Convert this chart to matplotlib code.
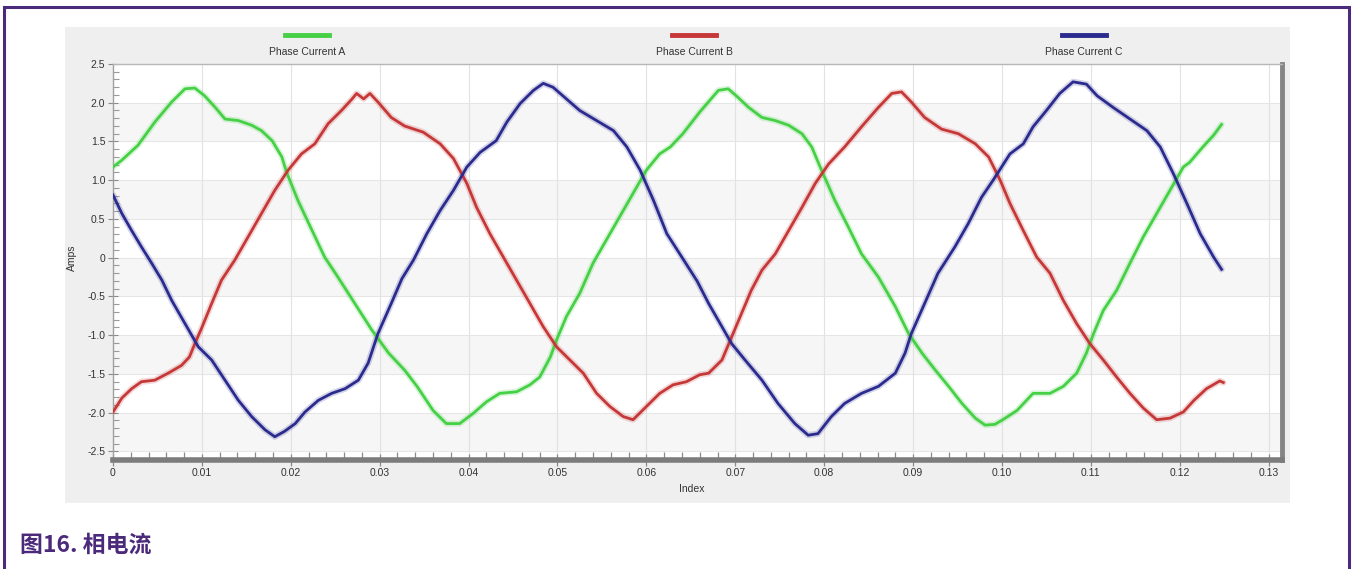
"""Phase current waveforms (figure 16) redrawn with matplotlib."""

import matplotlib

matplotlib.use("Agg")
import matplotlib.pyplot as plt
from matplotlib.lines import Line2D
from matplotlib.patches import Rectangle
from matplotlib.ticker import MultipleLocator, FixedLocator


W, H = 1352, 569
PURPLE = "#4b2a7b"

# values (seconds, amps)
time_a = [0.0000, 0.0010, 0.0028, 0.0047, 0.0066, 0.0081, 0.0092, 0.0103, 0.0115, 0.0126,
          0.0141, 0.0156, 0.0167, 0.0179, 0.0190, 0.0195, 0.0208, 0.0224, 0.0238, 0.0253,
          0.0272, 0.0291, 0.0310, 0.0328, 0.0342, 0.0360, 0.0375, 0.0390, 0.0405, 0.0420,
          0.0435, 0.0454, 0.0469, 0.0480, 0.0492, 0.0499, 0.0510, 0.0525, 0.0540, 0.0555,
          0.0570, 0.0585, 0.0600, 0.0615, 0.0627, 0.0641, 0.0660, 0.0681, 0.0692, 0.0703,
          0.0715, 0.0730, 0.0745, 0.0760, 0.0775, 0.0786, 0.0797, 0.0812, 0.0827, 0.0842,
          0.0861, 0.0880, 0.0895, 0.0910, 0.0925, 0.0940, 0.0955, 0.0970, 0.0981, 0.0992,
          0.1001, 0.1017, 0.1035, 0.1054, 0.1069, 0.1084, 0.1095, 0.1103, 0.1114, 0.1129,
          0.1144, 0.1159, 0.1174, 0.1189, 0.1204, 0.1211, 0.1226, 0.1238, 0.1247]
amps_a = [1.17, 1.26, 1.45, 1.75, 2.01, 2.18, 2.19, 2.09, 1.94, 1.79,
          1.77, 1.71, 1.64, 1.51, 1.30, 1.11, 0.74, 0.35, 0.01, -0.25,
          -0.59, -0.93, -1.23, -1.45, -1.66, -1.97, -2.14, -2.14, -2.01, -1.86,
          -1.75, -1.73, -1.64, -1.54, -1.28, -1.06, -0.76, -0.46, -0.07, 0.23,
          0.53, 0.83, 1.13, 1.34, 1.43, 1.60, 1.88, 2.16, 2.18, 2.07,
          1.94, 1.81, 1.77, 1.71, 1.60, 1.43, 1.13, 0.74, 0.40, 0.05,
          -0.25, -0.63, -0.98, -1.23, -1.45, -1.66, -1.88, -2.07, -2.16, -2.15,
          -2.09, -1.97, -1.75, -1.75, -1.66, -1.49, -1.23, -0.98, -0.68, -0.42,
          -0.07, 0.27, 0.57, 0.87, 1.17, 1.23, 1.43, 1.58, 1.72]

time_b = [0.0000, 0.0010, 0.0021, 0.0032, 0.0047, 0.0062, 0.0077, 0.0086, 0.0092, 0.0100,
          0.0111, 0.0122, 0.0137, 0.0152, 0.0167, 0.0182, 0.0197, 0.0212, 0.0227, 0.0242,
          0.0257, 0.0269, 0.0274, 0.0282, 0.0289, 0.0298, 0.0313, 0.0328, 0.0349, 0.0368,
          0.0383, 0.0398, 0.0409, 0.0424, 0.0439, 0.0454, 0.0469, 0.0484, 0.0499, 0.0514,
          0.0529, 0.0544, 0.0559, 0.0574, 0.0585, 0.0600, 0.0615, 0.0630, 0.0645, 0.0660,
          0.0670, 0.0685, 0.0696, 0.0707, 0.0718, 0.0730, 0.0745, 0.0760, 0.0775, 0.0790,
          0.0805, 0.0823, 0.0842, 0.0861, 0.0876, 0.0887, 0.0898, 0.0913, 0.0932, 0.0951,
          0.0970, 0.0985, 0.0998, 0.1009, 0.1024, 0.1039, 0.1054, 0.1069, 0.1084, 0.1099,
          0.1114, 0.1129, 0.1144, 0.1159, 0.1174, 0.1189, 0.1204, 0.1216, 0.1230, 0.1245,
          0.1249]
amps_b = [-1.99, -1.81, -1.69, -1.60, -1.58, -1.49, -1.39, -1.28, -1.11, -0.90,
          -0.59, -0.29, -0.03, 0.27, 0.57, 0.87, 1.13, 1.34, 1.47, 1.73,
          1.90, 2.05, 2.12, 2.05, 2.12, 2.01, 1.81, 1.70, 1.62, 1.47,
          1.28, 0.96, 0.65, 0.31, 0.01, -0.29, -0.59, -0.89, -1.15, -1.32,
          -1.49, -1.75, -1.92, -2.05, -2.09, -1.92, -1.75, -1.64, -1.60, -1.51,
          -1.49, -1.32, -1.02, -0.72, -0.42, -0.16, 0.05, 0.35, 0.65, 0.96,
          1.21, 1.43, 1.69, 1.94, 2.12, 2.14, 2.01, 1.81, 1.66, 1.60,
          1.47, 1.30, 1.00, 0.70, 0.35, 0.01, -0.20, -0.55, -0.85, -1.11,
          -1.32, -1.54, -1.75, -1.94, -2.09, -2.07, -1.99, -1.84, -1.69, -1.59,
          -1.61]

time_c = [0.0000, 0.0010, 0.0021, 0.0032, 0.0044, 0.0055, 0.0066, 0.0081, 0.0096, 0.0111,
          0.0126, 0.0141, 0.0156, 0.0171, 0.0182, 0.0193, 0.0205, 0.0216, 0.0231, 0.0246,
          0.0261, 0.0276, 0.0287, 0.0298, 0.0313, 0.0325, 0.0338, 0.0353, 0.0368, 0.0383,
          0.0398, 0.0413, 0.0431, 0.0443, 0.0458, 0.0473, 0.0484, 0.0495, 0.0510, 0.0525,
          0.0544, 0.0563, 0.0578, 0.0593, 0.0608, 0.0623, 0.0642, 0.0657, 0.0670, 0.0685,
          0.0696, 0.0711, 0.0730, 0.0748, 0.0767, 0.0782, 0.0793, 0.0808, 0.0823, 0.0842,
          0.0861, 0.0880, 0.0891, 0.0898, 0.0913, 0.0928, 0.0947, 0.0962, 0.0977, 0.0990,
          0.1009, 0.1024, 0.1035, 0.1050, 0.1065, 0.1080, 0.1095, 0.1107, 0.1125, 0.1144,
          0.1163, 0.1178, 0.1193, 0.1208, 0.1223, 0.1238, 0.1247]
amps_c = [0.81, 0.57, 0.35, 0.14, -0.08, -0.29, -0.55, -0.85, -1.15, -1.32,
          -1.58, -1.84, -2.05, -2.22, -2.31, -2.24, -2.14, -1.99, -1.84, -1.75,
          -1.69, -1.58, -1.36, -0.98, -0.59, -0.27, -0.03, 0.31, 0.61, 0.87,
          1.17, 1.36, 1.51, 1.75, 1.99, 2.16, 2.25, 2.20, 2.05, 1.90,
          1.77, 1.64, 1.43, 1.13, 0.74, 0.31, -0.03, -0.30, -0.59, -0.89,
          -1.11, -1.32, -1.58, -1.88, -2.14, -2.29, -2.27, -2.05, -1.88, -1.75,
          -1.66, -1.49, -1.23, -0.98, -0.59, -0.20, 0.14, 0.44, 0.78, 1.00,
          1.34, 1.47, 1.69, 1.90, 2.12, 2.27, 2.24, 2.09, 1.94, 1.79,
          1.64, 1.43, 1.08, 0.70, 0.31, 0.01, -0.15]

series_names = ["Phase Current A", "Phase Current B", "Phase Current C"]
series_colors = ["#45d045", "#c63838", "#2b2b8f"]

y_ticks = [-2.5, -2.0, -1.5, -1.0, -0.5, 0, 0.5, 1.0, 1.5, 2.0, 2.5]
y_tick_labels = ["-2.5", "-2.0", "-1.5", "-1.0", "-0.5", "0", "0.5", "1.0", "1.5", "2.0", "2.5"]
x_ticks = [0.00, 0.01, 0.02, 0.03, 0.04, 0.05, 0.06, 0.07, 0.08, 0.09, 0.10, 0.11, 0.12, 0.13]
x_tick_labels = ["0", "0.01", "0.02", "0.03", "0.04", "0.05", "0.06", "0.07", "0.08", "0.09",
                 "0.10", "0.11", "0.12", "0.13"]
legend_centers = [307, 694, 1084]


def fx(px):
    return px / W


def fy(py):
    return 1 - py / H


fig = plt.figure(figsize=(W / 100, H / 100), dpi=100)
fig.patch.set_facecolor("white")

# purple frame around the whole figure block, and the grey chart backdrop
fig.patches.append(Rectangle((fx(4), fy(580)), fx(1349) - fx(4), fy(7) - fy(580),
                             transform=fig.transFigure, fill=False, edgecolor=PURPLE, lw=2.2,
                             zorder=-2))
fig.patches.append(Rectangle((fx(65), fy(503)), fx(1290) - fx(65), fy(27) - fy(503),
                             transform=fig.transFigure, facecolor="#efefef", edgecolor="none",
                             zorder=-1))

ax = fig.add_axes([fx(113), fy(460), fx(1282) - fx(113), fy(64) - fy(460)])
ax.set_zorder(2)
ax.set_facecolor("white")
ax.set_xlim(0, 0.1315)
ax.set_ylim(-2.61, 2.5)

for lo in [1.5, 0.5, -0.5, -1.5, -2.5]:
    ax.axhspan(lo, lo + 0.5, color="#f6f6f6", lw=0, zorder=0)
for yv in y_ticks:
    ax.axhline(yv, color="#e6e6e6", lw=0.8, zorder=0.5)
for xv in x_ticks[1:]:
    ax.axvline(xv, color="#e2e2e2", lw=0.8, zorder=0.5)

data = [(time_a, amps_a), (time_b, amps_b), (time_c, amps_c)]
for (t, a), color, name in zip(data, series_colors, series_names):
    ax.plot(t, a, color=color, lw=4.5, alpha=0.2, solid_capstyle="round", zorder=2)
    ax.plot(t, a, color=color, lw=2.0, label=name, solid_joinstyle="round", zorder=3)

ax.spines["left"].set_color("#a0a0a0")
ax.spines["left"].set_linewidth(1.0)
ax.spines["top"].set_color("#b8b8b8")
ax.spines["top"].set_linewidth(1.0)
ax.spines["right"].set_color("#858585")
ax.spines["right"].set_linewidth(3.5)
ax.spines["bottom"].set_color("#7c7c7c")
ax.spines["bottom"].set_linewidth(4.0)

tick_font = {"family": "Liberation Sans", "size": 7.5}
ax.yaxis.set_major_locator(FixedLocator(y_ticks))
ax.set_yticklabels(y_tick_labels, fontdict=tick_font, color="#333333")
ax.yaxis.set_minor_locator(MultipleLocator(0.1))
ax.xaxis.set_major_locator(FixedLocator(x_ticks))
ax.set_xticklabels(x_tick_labels, fontdict=tick_font, color="#333333")
ax.xaxis.set_minor_locator(MultipleLocator(0.002))
ax.tick_params(axis="y", which="major", direction="inout", length=7, width=0.8, color="#8a8a8a", pad=2)
ax.tick_params(axis="y", which="minor", direction="in", length=4, width=0.8, color="#9a9a9a")
ax.tick_params(axis="x", which="major", direction="inout", length=9, width=0.9, color="#8a8a8a", pad=1.5)
ax.tick_params(axis="x", which="minor", direction="in", length=6, width=0.9, color="#8a8a8a")

fig.text(fx(72), fy(258), "Amps", rotation=90, ha="center", va="center",
         fontsize=7.5, family="Liberation Sans", color="#333333")
fig.text(fx(692), fy(489), "Index", ha="center", va="center",
         fontsize=7.5, family="Liberation Sans", color="#333333")

# legend row above the plot
for cx, color, name in zip(legend_centers, series_colors, series_names):
    fig.add_artist(Line2D([fx(cx - 22), fx(cx + 22)], [fy(35), fy(35)], color=color, lw=3.5,
                          transform=fig.transFigure))
    fig.text(fx(cx), fy(52), name, ha="center", va="center", fontsize=7.5,
             family="Liberation Sans", color="#333333")

fig.text(fx(20), fy(545), "图16. 相电流", ha="left", va="center", fontsize=16.5, fontweight="black",
         color=PURPLE, family=["Noto Sans CJK SC", "DejaVu Sans"])

fig.savefig("out.png", dpi=100)
